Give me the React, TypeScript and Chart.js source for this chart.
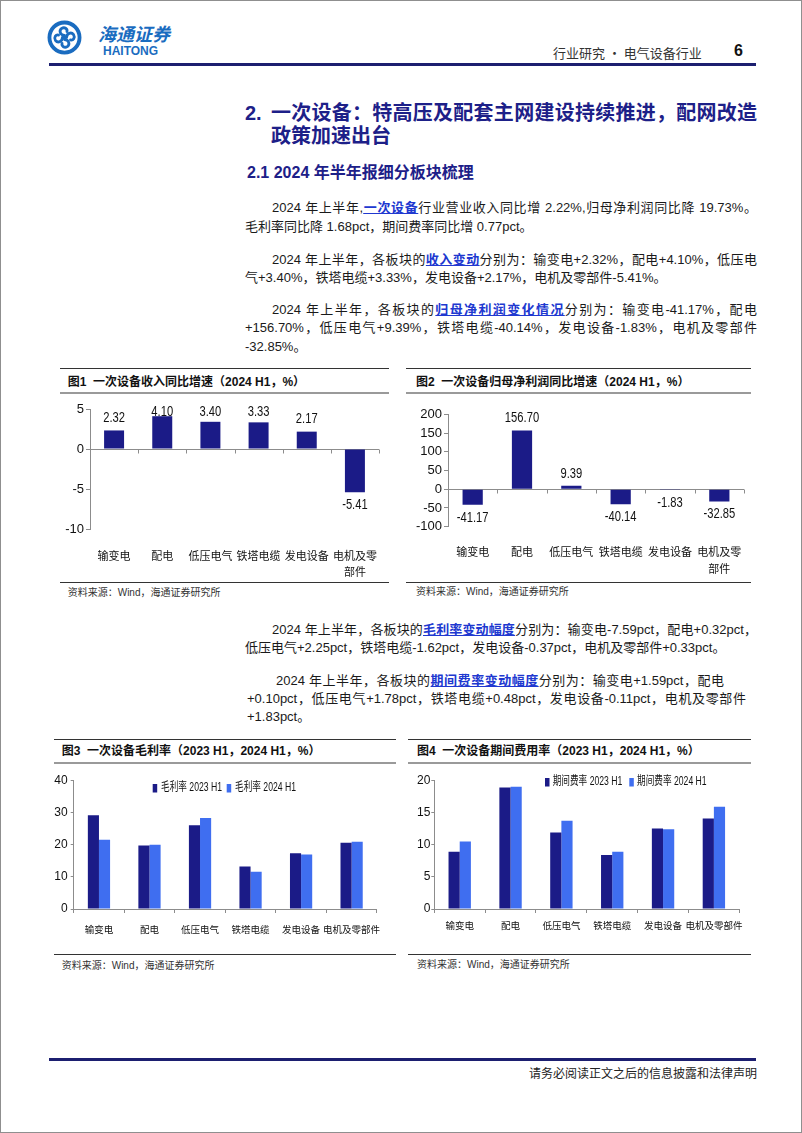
import React, { useEffect, useRef } from "react";
import { Chart, registerables } from "chart.js";

Chart.register(...registerables);

// ---------- data ----------
const categories = ["输变电", "配电", "低压电气", "铁塔电缆", "发电设备", "电机及零部件"];
const revenueGrowth = [2.32, 4.1, 3.4, 3.33, 2.17, -5.41];
const profitGrowth = [-41.17, 156.7, 9.39, -40.14, -1.83, -32.85];
const grossMargin2023 = [29.1, 19.7, 26.0, 13.2, 17.3, 20.6];
const grossMargin2024 = [21.5, 20.0, 28.3, 11.6, 16.9, 20.9];
const expenseRate2023 = [8.9, 18.9, 11.9, 8.4, 12.5, 14.05];
const expenseRate2024 = [10.5, 19.0, 13.7, 8.9, 12.4, 15.9];
const revenueTicks = [-10, -5, 0, 5];
const profitTicks = [-100, -50, 0, 50, 100, 150, 200];
const marginTicks = [0, 10, 20, 30, 40];
const expenseTicks = [0, 5, 10, 15, 20];
const marginSeries = ["毛利率 2023 H1", "毛利率 2024 H1"];
const expenseSeries = ["期间费率 2023 H1", "期间费率 2024 H1"];

// ---------- styles ----------
const NAVY = "#1b1b87";
const LIGHT = "#3f6ef0";
const AXIS = "#8c8c8c";
const CJK = "'Noto Sans CJK SC', sans-serif";
const SANS = "'Liberation Sans', 'Noto Sans CJK SC', sans-serif";
const TITLE_BLUE = "#1d2088";
const LINK_BLUE = "#2038d0";
const LOGO_BLUE = "#1a6cc0";

const wrapLabel = (c: string) => (c.length > 4 ? [c.slice(0, 4), c.slice(4)] : c);
const range = (t: number[]) => ({ min: t[0], max: t[t.length - 1], step: t[1] - t[0] });

// ---------- plugins ----------
const zeroAxisPlugin = {
  id: "zeroAxis",
  beforeDatasetsDraw(chart: any, _a: any, opts: any) {
    const { ctx, chartArea, scales } = chart;
    const y0 = Math.round(scales.y.getPixelForValue(0)) + 0.5;
    const n = chart.data.labels.length;
    const w = (chartArea.right - chartArea.left) / n;
    ctx.save();
    ctx.strokeStyle = opts.color || AXIS;
    ctx.lineWidth = 1;
    ctx.beginPath();
    ctx.moveTo(chartArea.left, y0);
    ctx.lineTo(chartArea.right, y0);
    for (let i = 1; i <= n; i++) {
      const x = Math.round(chartArea.left + i * w) + 0.5;
      ctx.moveTo(x, y0);
      ctx.lineTo(x, y0 + 4);
    }
    ctx.stroke();
    ctx.restore();
  },
};

const valueLabelPlugin = {
  id: "valueLabels",
  afterDatasetsDraw(chart: any, _a: any, opts: any) {
    const { ctx, chartArea } = chart;
    const meta = chart.getDatasetMeta(0);
    const data = chart.data.datasets[0].data;
    ctx.save();
    ctx.font = opts.font;
    ctx.fillStyle = opts.color;
    ctx.textAlign = "center";
    ctx.textBaseline = "middle";
    meta.data.forEach((bar: any, i: number) => {
      const v = data[i];
      const { x, y } = bar.getProps(["x", "y"], true);
      const ty = v >= 0 ? Math.max(y - opts.up, chartArea.top + opts.clamp) : y + opts.down;
      ctx.save();
      ctx.translate(x, ty);
      ctx.scale(opts.scaleX, 1);
      ctx.fillText(v.toFixed(2), 0, 0);
      ctx.restore();
    });
    ctx.restore();
  },
};

const insideLegendPlugin = {
  id: "insideLegend",
  afterDraw(chart: any, _a: any, opts: any) {
    const { ctx, chartArea } = chart;
    ctx.save();
    ctx.textBaseline = "middle";
    chart.data.datasets.forEach((ds: any, i: number) => {
      const x = chartArea.left + opts.positions[i];
      const yc = chartArea.top + opts.dy;
      ctx.fillStyle = ds.backgroundColor;
      ctx.fillRect(x, yc - 4, 4.5, 8.5);
      ctx.save();
      ctx.translate(x + opts.gap, yc);
      ctx.scale(opts.scaleX, 1);
      ctx.fillStyle = "#111";
      ctx.font = opts.font;
      ctx.fillText(ds.label, 0, 0);
      ctx.restore();
    });
    ctx.restore();
  },
};

// ---------- chart configs ----------
function singleBarConfig(
  values: number[],
  ticks: number[],
  label: string,
  p: { top: number; right: number; yWidth: number; xHeight: number; labelPad: number; lineHeight: number; catPct: number }
) {
  const r = range(ticks);
  return {
    type: "bar",
    data: {
      labels: categories.map(wrapLabel),
      datasets: [
        { label, data: values, backgroundColor: NAVY, borderWidth: 0, categoryPercentage: p.catPct, barPercentage: 1 },
      ],
    },
    options: {
      responsive: false,
      maintainAspectRatio: false,
      animation: false,
      layout: { padding: { top: p.top, right: p.right, left: 0, bottom: 0 } },
      plugins: {
        legend: { display: false },
        tooltip: { enabled: false },
        zeroAxis: { color: AXIS },
        valueLabels: { font: `14px ${SANS}`, color: "#111", up: 12, down: 13, clamp: 3, scaleX: 0.8 },
      },
      scales: {
        x: {
          grid: { display: false },
          border: { display: false },
          ticks: {
            color: "#111",
            font: { family: CJK, size: 11, lineHeight: p.lineHeight },
            padding: p.labelPad,
            maxRotation: 0,
            minRotation: 0,
            autoSkip: false,
          },
          afterFit: (s: any) => {
            s.height = p.xHeight;
          },
        },
        y: {
          min: r.min,
          max: r.max,
          ticks: { stepSize: r.step, color: "#111", font: { family: SANS, size: 13 }, padding: 2 },
          grid: { drawOnChartArea: false, tickLength: 4, color: AXIS },
          border: { color: AXIS },
          afterFit: (s: any) => {
            s.width = p.yWidth;
          },
        },
      },
    },
    plugins: [zeroAxisPlugin, valueLabelPlugin],
  };
}

function pairBarConfig(
  a: number[],
  b: number[],
  names: string[],
  ticks: number[],
  p: { top: number; right: number; yWidth: number; xHeight: number; labelPad: number; yPad: number; catPct: number; positions: number[]; dy: number; gap: number }
) {
  const r = range(ticks);
  return {
    type: "bar",
    data: {
      labels: categories,
      datasets: [
        { label: names[0], data: a, backgroundColor: NAVY, borderWidth: 0, categoryPercentage: p.catPct, barPercentage: 1 },
        { label: names[1], data: b, backgroundColor: LIGHT, borderWidth: 0, categoryPercentage: p.catPct, barPercentage: 1 },
      ],
    },
    options: {
      responsive: false,
      maintainAspectRatio: false,
      animation: false,
      layout: { padding: { top: p.top, right: p.right, left: 0, bottom: 0 } },
      plugins: {
        legend: { display: false },
        tooltip: { enabled: false },
        insideLegend: { positions: p.positions, dy: p.dy, gap: p.gap, scaleX: 0.72, font: `12px ${SANS}` },
      },
      scales: {
        x: {
          grid: { display: true, drawOnChartArea: false, tickLength: 4, color: AXIS, offset: true },
          border: { color: AXIS },
          ticks: {
            color: "#111",
            font: { family: CJK, size: 9.5 },
            padding: p.labelPad,
            maxRotation: 0,
            minRotation: 0,
            autoSkip: false,
          },
          afterFit: (s: any) => {
            s.height = p.xHeight;
          },
        },
        y: {
          min: r.min,
          max: r.max,
          ticks: { stepSize: r.step, color: "#111", font: { family: SANS, size: 12 }, padding: p.yPad },
          grid: { drawOnChartArea: false, tickLength: 3, color: AXIS },
          border: { color: AXIS },
          afterFit: (s: any) => {
            s.width = p.yWidth;
          },
        },
      },
    },
    plugins: [insideLegendPlugin],
  };
}

// ---------- components ----------
function ChartCanvas({ left, top, width, height, make }: any) {
  const ref = useRef<HTMLCanvasElement>(null);
  useEffect(() => {
    const chart = new Chart(ref.current as HTMLCanvasElement, make() as any);
    return () => chart.destroy();
  }, []);
  return (
    <canvas
      ref={ref}
      width={width}
      height={height}
      style={{ position: "absolute", left, top, width, height }}
    />
  );
}

function Text({ left, cy, size = 13, lh = 19, width, justify, style, children }: any) {
  return (
    <div
      style={{
        position: "absolute",
        left,
        top: cy - lh / 2,
        width,
        height: lh,
        lineHeight: `${lh}px`,
        fontSize: size,
        fontFamily: SANS,
        color: "#1a1a1a",
        whiteSpace: width ? "normal" : "pre",
        textAlign: justify ? "justify" : "left",
        textAlignLast: justify ? "justify" : "left",
        ...style,
      }}
    >
      {children}
    </div>
  );
}

function Rule({ left, right, y, h = 1, color = "#333" }: any) {
  return <div style={{ position: "absolute", left, top: y, width: right - left, height: h, background: color }} />;
}

const L = ({ children }: any) => (
  <span style={{ color: LINK_BLUE, textDecoration: "underline", fontWeight: 700 }}>{children}</span>
);

function FigureFrame({ left, right, titleLeft, topY, titleY, sepY, bottomY, sourceY, title }: any) {
  return (
    <>
      <Rule left={left} right={right} y={topY} h={1} color="#333" />
      <Text left={titleLeft} cy={titleY} size={12} lh={16} style={{ fontWeight: 700, color: "#111" }}>
        {title}
      </Text>
      <Rule left={left} right={right} y={sepY} h={2} color="#9a9a9a" />
      <Rule left={left} right={right} y={bottomY} h={1} color="#333" />
      <Text left={titleLeft} cy={sourceY} size={10} lh={14} style={{ color: "#333" }}>
        资料来源：Wind，海通证券研究所
      </Text>
    </>
  );
}

function Logo() {
  const arm = "M50 44 C 38 44, 33 31, 42 24 C 50 19, 59 25, 57 33";
  return (
    <svg style={{ position: "absolute", left: 46, top: 19 }} width={35} height={35} viewBox="0 0 100 100">
      <circle cx={50} cy={50} r={43} fill="none" stroke={LOGO_BLUE} strokeWidth={11} />
      {[0, 90, 180, 270].map((a) => (
        <path
          key={a}
          d={arm}
          fill="none"
          stroke={LOGO_BLUE}
          strokeWidth={8}
          strokeLinecap="round"
          transform={`rotate(${a} 50 50)`}
        />
      ))}
      <circle cx={50} cy={50} r={6} fill={LOGO_BLUE} />
    </svg>
  );
}

export default function App() {
  return (
    <div
      style={{
        position: "absolute",
        left: 0,
        top: 0,
        width: 802,
        height: 1133,
        boxSizing: "border-box",
        border: "1px solid #8f8f8f",
        background: "#fff",
        overflow: "hidden",
        fontFamily: SANS,
      }}
    >
      {/* header */}
      <Logo />
      <Text left={97} cy={32} size={18} lh={22} style={{ color: LOGO_BLUE, fontStyle: "italic", fontWeight: 700, fontFamily: CJK }}>
        海通证券
      </Text>
      <Text left={102} cy={50} size={12} lh={14} style={{ color: LOGO_BLUE, fontWeight: 700 }}>
        HAITONG
      </Text>
      <Text left={552} cy={51.7} size={13} lh={18} style={{ color: "#333", fontFamily: CJK }}>
        行业研究 · 电气设备行业
      </Text>
      <Text left={733} cy={50} size={16} lh={20} style={{ fontWeight: 700, color: "#111" }}>
        6
      </Text>
      <Rule left={48} right={755} y={62} h={3} color="#1c1f70" />

      {/* section title */}
      <Text left={244} cy={111.7} size={20} lh={26} style={{ fontWeight: 700, color: TITLE_BLUE }}>
        2.
      </Text>
      <Text left={270} width={486} justify cy={111.7} size={20} lh={26} style={{ fontWeight: 700, color: TITLE_BLUE }}>
        一次设备：特高压及配套主网建设持续推进，配网改造
      </Text>
      <Text left={270} cy={134.5} size={20} lh={26} style={{ fontWeight: 700, color: TITLE_BLUE }}>
        政策加速出台
      </Text>
      <Text left={246} cy={171.7} size={16} lh={22} style={{ fontWeight: 700, color: TITLE_BLUE }}>
        2.1 2024 年半年报细分板块梳理
      </Text>

      {/* paragraphs */}
      <Text left={271} width={485} justify cy={206.7}>
        2024 年上半年,<L>一次设备</L>行业营业收入同比增 2.22%,归母净利润同比降 19.73%。
      </Text>
      <Text left={244} cy={225}>毛利率同比降 1.68pct，期间费率同比增 0.77pct。</Text>

      <Text left={271} width={485} justify cy={258.3}>
        2024 年上半年，各板块的<L>收入变动</L>分别为：输变电+2.32%，配电+4.10%，低压电
      </Text>
      <Text left={244} cy={276.7}>气+3.40%，铁塔电缆+3.33%，发电设备+2.17%，电机及零部件-5.41%。</Text>

      <Text left={271} width={485} justify cy={308.3}>
        2024 年上半年，各板块的<L>归母净利润变化情况</L>分别为：输变电-41.17%，配电
      </Text>
      <Text left={244} width={512} justify cy={326.7}>
        +156.70%，低压电气+9.39%，铁塔电缆-40.14%，发电设备-1.83%，电机及零部件
      </Text>
      <Text left={244} cy={345}>-32.85%。</Text>

      {/* figure 1 & 2 */}
      <FigureFrame
        left={59}
        right={388}
        titleLeft={66.7}
        topY={367}
        titleY={380.7}
        sepY={391}
        bottomY={581}
        sourceY={591.7}
        title={"图1  一次设备收入同比增速（2024 H1，%）"}
      />
      <ChartCanvas
        left={55}
        top={398}
        width={335}
        height={182}
        make={() =>
          singleBarConfig(revenueGrowth, revenueTicks, "收入同比增速", {
            top: 10,
            right: 12,
            yWidth: 34,
            xHeight: 52,
            labelPad: 10.5,
            lineHeight: 1.5,
            catPct: 0.415,
          })
        }
      />
      <FigureFrame
        left={405}
        right={750}
        titleLeft={415}
        topY={367}
        titleY={380.7}
        sepY={391}
        bottomY={581}
        sourceY={591}
        title={"图2  一次设备归母净利润同比增速（2024 H1，%）"}
      />
      <ChartCanvas
        left={405}
        top={403}
        width={345}
        height={177}
        make={() =>
          singleBarConfig(profitGrowth, profitTicks, "归母净利润同比增速", {
            top: 10.3,
            right: 7,
            yWidth: 42,
            xHeight: 54.3,
            labelPad: 8.4,
            lineHeight: 1.55,
            catPct: 0.41,
          })
        }
      />

      {/* paragraphs 4 & 5 */}
      <Text left={271} width={485} justify cy={628.3}>
        2024 年上半年，各板块的<L>毛利率变动幅度</L>分别为：输变电-7.59pct，配电+0.32pct，
      </Text>
      <Text left={244} cy={646}>低压电气+2.25pct，铁塔电缆-1.62pct，发电设备-0.37pct，电机及零部件+0.33pct。</Text>

      <Text left={275} width={448} justify cy={679}>
        2024 年上半年，各板块的<L>期间费率变动幅度</L>分别为：输变电+1.59pct，配电
      </Text>
      <Text left={246} width={499} justify cy={697.3}>
        +0.10pct，低压电气+1.78pct，铁塔电缆+0.48pct，发电设备-0.11pct，电机及零部件
      </Text>
      <Text left={246} cy={715.5}>+1.83pct。</Text>

      {/* figure 3 & 4 */}
      <FigureFrame
        left={52.7}
        right={395}
        titleLeft={60.7}
        topY={738}
        titleY={750.3}
        sepY={760.5}
        bottomY={953}
        sourceY={965}
        title={"图3  一次设备毛利率（2023 H1，2024 H1，%）"}
      />
      <ChartCanvas
        left={45}
        top={769}
        width={345}
        height={182}
        make={() =>
          pairBarConfig(grossMargin2023, grossMargin2024, marginSeries, marginTicks, {
            top: 10.3,
            right: 7,
            yWidth: 27.7,
            xHeight: 43,
            labelPad: 10.3,
            yPad: 3,
            catPct: 0.44,
            positions: [79, 153],
            dy: 7.7,
            gap: 8.3,
          })
        }
      />
      <FigureFrame
        left={407}
        right={750}
        titleLeft={416}
        topY={738}
        titleY={750.3}
        sepY={760.5}
        bottomY={953}
        sourceY={964.3}
        title={"图4  一次设备期间费用率（2023 H1，2024 H1，%）"}
      />
      <ChartCanvas
        left={405}
        top={769}
        width={345}
        height={182}
        make={() =>
          pairBarConfig(expenseRate2023, expenseRate2024, expenseSeries, expenseTicks, {
            top: 10.3,
            right: 11.7,
            yWidth: 28.3,
            xHeight: 43,
            labelPad: 7,
            yPad: 1,
            catPct: 0.44,
            positions: [110.7, 195],
            dy: 1.7,
            gap: 7.7,
          })
        }
      />

      {/* footer */}
      <Rule left={48} right={755} y={1057} h={3} color="#1c1f70" />
      <Text left={456} width={300} cy={1072} size={12} lh={16} style={{ color: "#222", fontFamily: CJK, textAlign: "right", textAlignLast: "right" }}>
        请务必阅读正文之后的信息披露和法律声明
      </Text>
    </div>
  );
}
